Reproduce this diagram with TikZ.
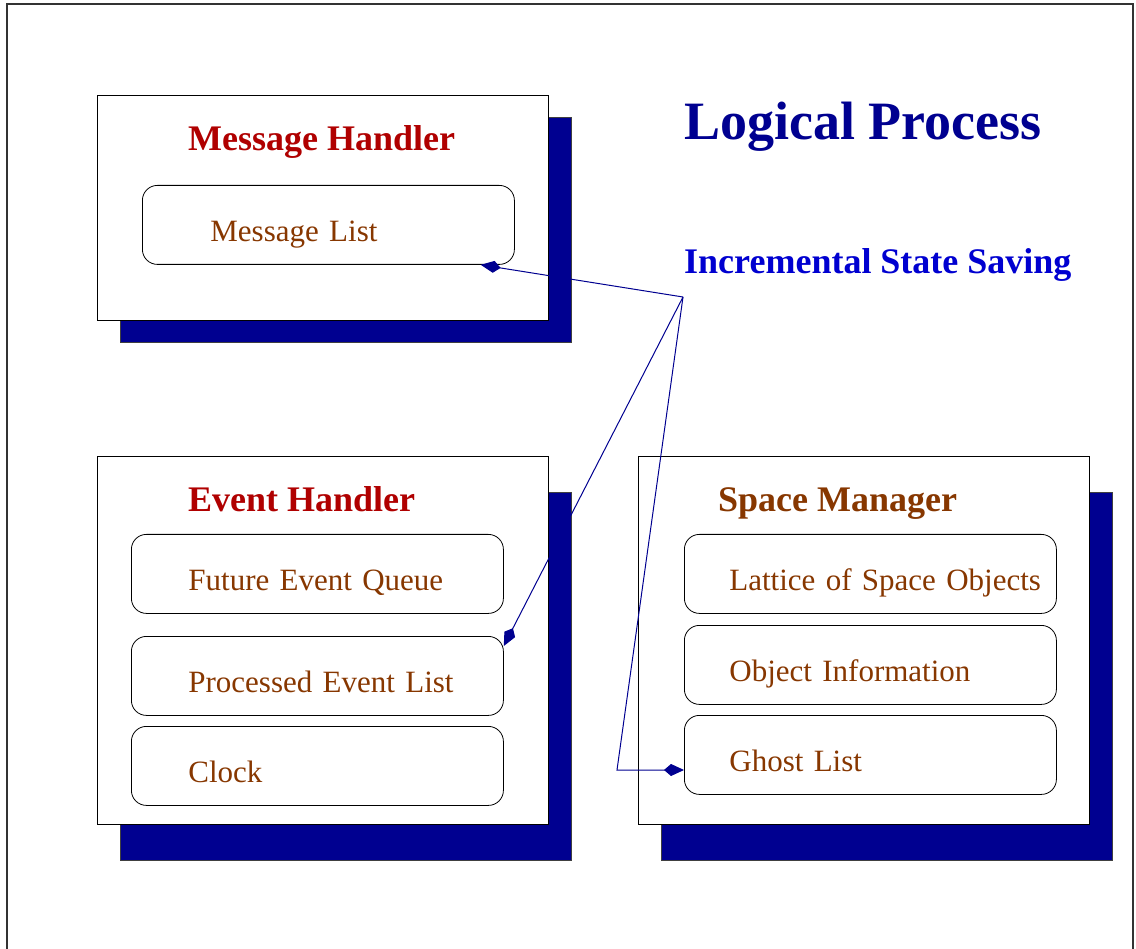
\documentclass[tikz,border=0pt]{standalone}
\usepackage{fontspec}
\setmainfont{Liberation Serif}
\usetikzlibrary{calc, arrows.meta}

\definecolor{rougetitre}{RGB}{176,0,0}
\definecolor{brun}{RGB}{135,55,0}
\definecolor{marine}{RGB}{0,0,144}
\definecolor{bleuvif}{RGB}{0,0,208}

\begin{document}
\begin{tikzpicture}[x=1pt, y=-1pt,
    panneau/.style={draw, fill=white, line width=0.8pt, minimum width=451pt, anchor=north west, inner sep=0pt},
    ombre/.style={draw=black!75, fill=marine, line width=0.6pt},
    titre/.style={anchor=base west, inner sep=0pt, font=\bfseries\fontsize{36}{40}\selectfont},
    liste/.style={draw, line width=0.8pt, rounded corners=15pt, anchor=north west,
      minimum width=372pt, text width=372pt, inner xsep=0pt, inner ysep=0pt,
      text height=56pt, text depth=23pt, align=left, text=brun,
      font=\fontsize{31}{34}\selectfont, execute at begin node={\hspace*{#1}}},
    lien/.style={draw=marine, line width=1pt, -{Kite[length=20pt, width=12pt, inset=7pt]}}]

  \useasboundingbox (0,0) rectangle (1136,949);

  % Cadre
  \draw[line width=1.2pt, black!80] (7,949) -- (7,4) -- (1133,4) -- (1133,949);

  % Panneaux et leurs ombres
  \foreach \nom/\x/\y/\h/\dy in {msghandler/97/95/225/22, evthandler/97/456/368/36, spacemgr/638/456/368/36} {
    \draw[ombre] (\x+23,\y+\dy) rectangle ++(451,\h);
    \node[panneau, minimum height=\h pt] (\nom) at (\x,\y) {};
  }

  % Titres
  \node[titre, text=rougetitre] (msgtitre) at (188,151) {Message Handler};
  \node[titre, text=rougetitre] (evttitre) at (188,512) {Event Handler};
  \node[titre, text=brun] (spacetitre) at (718,512) {Space Manager};
  \node[anchor=base west, inner sep=0pt, text=marine, font=\bfseries\fontsize{54}{60}\selectfont] (lp) at (684,140) {Logical Process};
  \node[titre, text=bleuvif] (iss) at (684,274) {Incremental State Saving};

  % Listes
  \node[liste=68pt] (msglist) at (142,185) {Message List};
  \foreach \nom/\y/\texte in {futureq/534/Future Event Queue, processed/636/Processed Event List, clock/726/Clock}
    \node[liste=57pt] (\nom) at (131,\y) {\texte};
  \foreach \nom/\y/\texte in {lattice/534/Lattice of Space Objects, objinfo/625/Object Information, ghost/715/Ghost List}
    \node[liste=45pt] (\nom) at (684,\y) {\texte};

  % Liens
  \coordinate (pivot) at (683,297);
  \coordinate (coude) at (617,770);
  \draw[lien] (pivot) -- ($(msglist.south east)+(-34,0)$);
  \draw[lien] (pivot) -- ($(processed.north east)+(0,10)$);
  \draw[lien] (pivot) -- (coude) -- (coude -| ghost.west);
\end{tikzpicture}
\end{document}
